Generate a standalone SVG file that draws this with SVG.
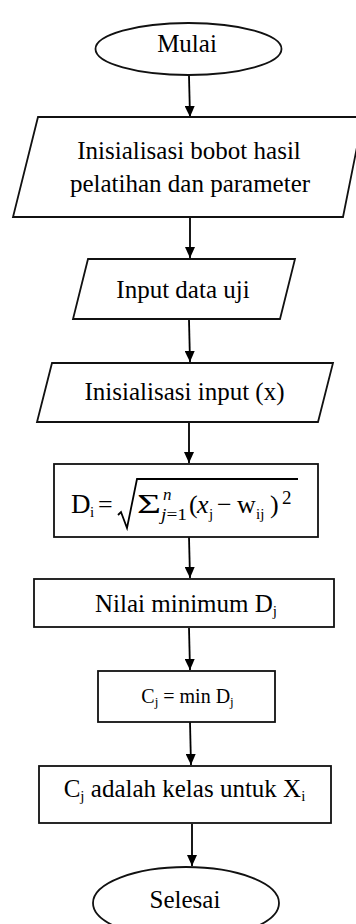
<svg xmlns="http://www.w3.org/2000/svg" width="356" height="924" viewBox="0 0 356 924">
<style>
.s{fill:#fff;stroke:#111;stroke-width:1.8}
.t{font-family:"Liberation Serif","Times New Roman",serif;font-size:25px;fill:#000;text-anchor:middle}
.f{font-family:"Liberation Serif","Times New Roman",serif;fill:#000}
.c{stroke:#000;stroke-width:1.8;fill:none}
</style>
<defs>
<marker id="ah" markerUnits="userSpaceOnUse" markerWidth="12" markerHeight="10" refX="11" refY="5" orient="auto">
<path d="M0,0 L11,5 L0,10 z" fill="#000"/>
</marker>
</defs>
<rect width="356" height="924" fill="#fff"/>
<g id="connectors">
<line class="c" x1="189" y1="76" x2="190" y2="117" marker-end="url(#ah)"/>
<line class="c" x1="190" y1="217" x2="190" y2="258" marker-end="url(#ah)"/>
<line class="c" x1="189" y1="320" x2="190" y2="362" marker-end="url(#ah)"/>
<line class="c" x1="189" y1="423" x2="189" y2="463" marker-end="url(#ah)"/>
<line class="c" x1="189" y1="537" x2="190" y2="578" marker-end="url(#ah)"/>
<line class="c" x1="189" y1="628" x2="190" y2="670" marker-end="url(#ah)"/>
<line class="c" x1="190" y1="722" x2="191" y2="765" marker-end="url(#ah)"/>
<line class="c" x1="192" y1="824" x2="192" y2="866" marker-end="url(#ah)"/>
</g>
<g id="mulai">
<ellipse class="s" cx="188.5" cy="49" rx="93" ry="26"/>
<text class="t" x="187" y="52">Mulai</text>
</g>
<g id="init-bobot">
<polygon class="s" points="38,117 363,117 343,217 13,217"/>
<text class="t" x="189" y="159">Inisialisasi bobot hasil</text>
<text class="t" x="190" y="192">pelatihan dan parameter</text>
</g>
<g id="input-data">
<polygon class="s" points="88,259 295,259 280,319 73,319"/>
<text class="t" x="183" y="298">Input data uji</text>
</g>
<g id="init-input">
<polygon class="s" points="52,363 333,363 318,422 37,422"/>
<text class="t" x="184.5" y="400">Inisialisasi input (x)</text>
</g>
<g id="jarak">
<rect class="s" x="54" y="464" width="264" height="73"/>
<text class="f" font-size="27" x="71" y="513">D</text>
<text class="f" font-size="15" x="90" y="517">i</text>
<text class="f" font-size="26" x="98" y="513">=</text>
<path d="M118,515 L121,512 L127,528 L137,479 L298,479" fill="none" stroke="#000" stroke-width="1.8"/>
<text class="f" font-size="27" x="137" y="513" textLength="24" lengthAdjust="spacingAndGlyphs">Σ</text>
<text class="f" font-size="17" font-style="italic" x="163" y="500">n</text>
<text class="f" font-size="17" x="161" y="520" textLength="26" lengthAdjust="spacingAndGlyphs"><tspan font-style="italic">j</tspan>=1</text>
<text class="f" font-size="26" x="189" y="513">(</text>
<text class="f" font-size="26" font-style="italic" x="197" y="513">x</text>
<text class="f" font-size="15" x="209" y="519">j</text>
<text class="f" font-size="26" x="217" y="513">−</text>
<text class="f" font-size="26" x="237" y="513">w</text>
<text class="f" font-size="15" x="256" y="519">ij</text>
<text class="f" font-size="26" x="270" y="513">)</text>
<text class="f" font-size="19" x="282" y="504">2</text>
</g>
<g id="nilai-min">
<rect class="s" x="34" y="579" width="300" height="48"/>
<text class="t" x="186" y="612">Nilai minimum D<tspan font-size="15" dy="4">j</tspan></text>
</g>
<g id="cj-min">
<rect class="s" x="98" y="671" width="177" height="51"/>
<text class="t" x="187.5" y="703" style="font-size:20px">C<tspan font-size="13" dy="3">j</tspan><tspan dy="-3"> = min D</tspan><tspan font-size="13" dy="3">j</tspan></text>
</g>
<g id="kelas">
<rect class="s" x="39" y="766" width="292" height="57"/>
<text class="t" x="184.5" y="797">C<tspan font-size="15" dy="4">j</tspan><tspan dy="-4"> adalah kelas untuk X</tspan><tspan font-size="15" dy="4">i</tspan></text>
</g>
<g id="selesai">
<ellipse class="s" cx="186" cy="903" rx="93" ry="36"/>
<text class="t" x="185" y="908">Selesai</text>
</g>
</svg>
